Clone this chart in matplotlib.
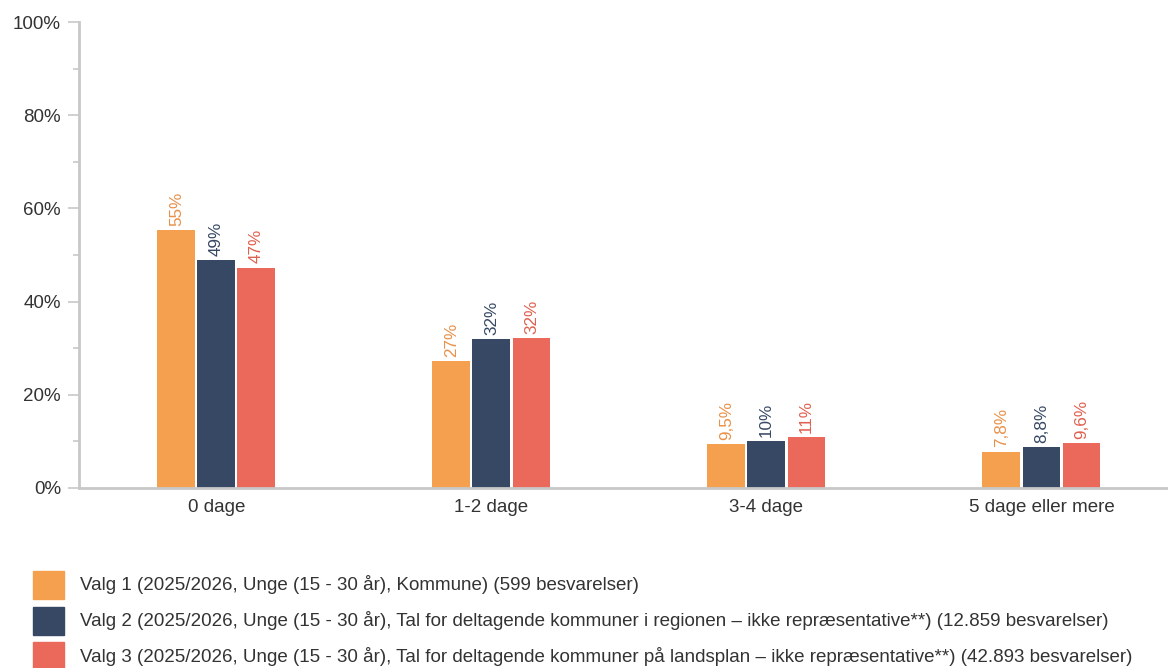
import numpy as np
import matplotlib.pyplot as plt
from matplotlib.patches import Rectangle
from matplotlib.ticker import MultipleLocator

plt.rcParams['font.family'] = ['Liberation Sans', 'DejaVu Sans']

kategorier = ["0 dage", "1-2 dage", "3-4 dage", "5 dage eller mere"]
valg1 = [55.3, 27.3, 9.5, 7.8]
valg2 = [49.0, 31.9, 10.1, 8.8]
valg3 = [47.3, 32.1, 11.0, 9.6]
labels1 = ["55%", "27%", "9,5%", "7,8%"]
labels2 = ["49%", "32%", "10%", "8,8%"]
labels3 = ["47%", "32%", "11%", "9,6%"]
serier = [
    "Valg 1 (2025/2026, Unge (15 - 30 år), Kommune) (599 besvarelser)",
    "Valg 2 (2025/2026, Unge (15 - 30 år), Tal for deltagende kommuner i regionen – ikke repræsentative**) (12.859 besvarelser)",
    "Valg 3 (2025/2026, Unge (15 - 30 år), Tal for deltagende kommuner på landsplan – ikke repræsentative**) (42.893 besvarelser)",
]
farver = ["#F4A04F", "#374864", "#EB695B"]
tekstfarver = ["#E8914A", "#374864", "#E0604F"]

W, H = 1168, 668
fig = plt.figure(figsize=(W / 100, H / 100), dpi=100)
ax = fig.add_axes([0.0676, 0.2695, 0.9418, 0.6975])

x = np.arange(len(kategorier))
w = 0.138
step = 0.1455
for i, (vals, labs) in enumerate(zip([valg1, valg2, valg3], [labels1, labels2, labels3])):
    pos = x + (i - 1) * step
    ax.bar(pos, vals, width=w, color=farver[i], zorder=2)
    for p, v, l in zip(pos, vals, labs):
        ax.annotate(l, (p, v), xytext=(0, 3), textcoords="offset points",
                    rotation=90, ha="center", va="bottom", fontsize=12.3,
                    color=tekstfarver[i])

ax.set_xlim(-0.5, 3.5)
ax.set_ylim(0, 100)
ax.set_xticks(x)
ax.set_xticklabels(kategorier, fontsize=13.5, color="#333333")
ax.tick_params(axis="x", length=0, pad=8)
ax.yaxis.set_major_locator(MultipleLocator(20))
ax.yaxis.set_minor_locator(MultipleLocator(10))
ax.set_yticklabels([f"{int(t)}%" for t in ax.get_yticks()], fontsize=13.5, color="#333333")
ax.tick_params(axis="y", which="major", length=8, width=1.2, color="#C8C8C8", pad=5)
ax.tick_params(axis="y", which="minor", length=4, width=1.2, color="#C8C8C8")
for s in ["top", "right"]:
    ax.spines[s].set_visible(False)
for s in ["left", "bottom"]:
    ax.spines[s].set_color("#C8C8C8")
    ax.spines[s].set_linewidth(2)

# Legende tegnet manuelt (firkant + tekst pr. række)
for i, (c, navn) in enumerate(zip(farver, serier)):
    yc = 585 + i * 35.5
    fig.add_artist(Rectangle((33 / W, 1 - (yc + 14) / H), 31 / W, 28 / H,
                             transform=fig.transFigure, color=c))
    fig.text(80 / W, 1 - yc / H, navn, fontsize=13.5, color="#333333",
             va="center", ha="left")

fig.savefig("out.png", dpi=100)
